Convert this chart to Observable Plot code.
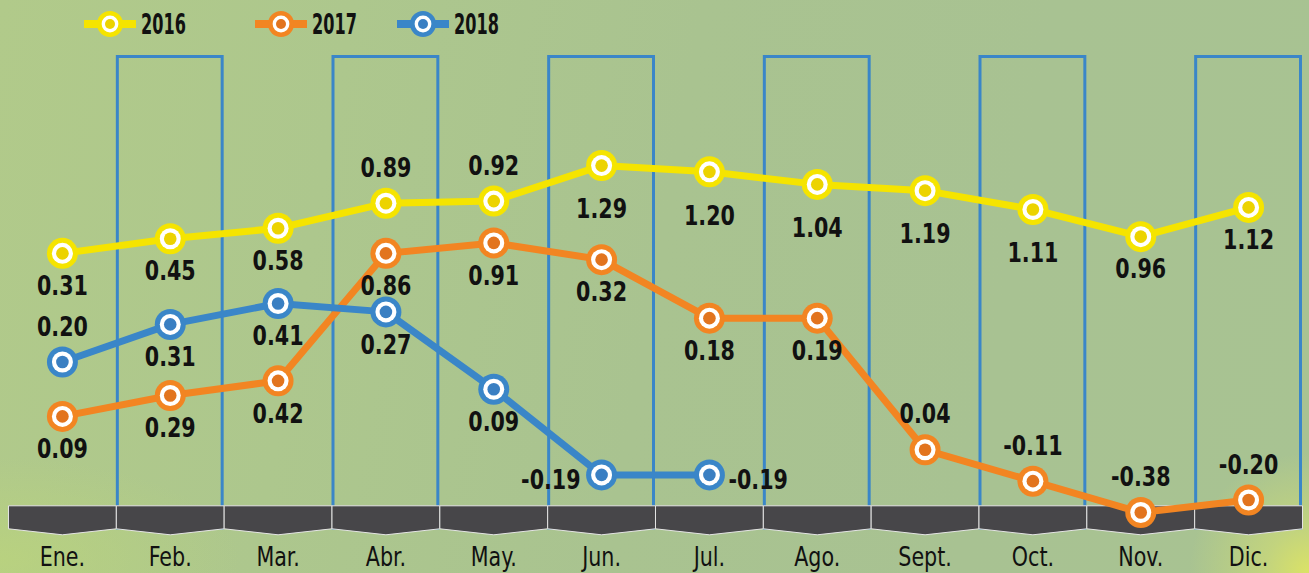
<!DOCTYPE html>
<html>
<head>
<meta charset="utf-8">
<script src="https://cdn.jsdelivr.net/npm/d3@7"></script>
<script src="https://cdn.jsdelivr.net/npm/@observablehq/plot@0.6"></script>
<style>
  html, body { margin: 0; padding: 0; }
  body {
    width: 1309px; height: 573px; overflow: hidden;
    font-family: "Liberation Sans Narrow", "DejaVu Sans Condensed", "Arial Narrow", sans-serif;
    background:
      radial-gradient(circle at 1309px 573px, rgba(222,228,100,0.95) 0px, rgba(215,225,110,0.55) 45px, rgba(200,220,120,0) 120px),
      radial-gradient(ellipse at 0px 560px, rgba(190,215,120,0.6) 0px, rgba(190,215,120,0) 240px),
      linear-gradient(100deg, #b1ca8a 0%, #adc78d 25%, #a9c390 50%, #a8c292 75%, #a8c392 100%);
  }
  #legend { position: relative; height: 45px; }
  .item { position: absolute; top: 0; height: 48px; display: flex; align-items: center; }
  .item span {
    display: inline-block; font-weight: bold; font-size: 28px; color: #111; margin-left: 5px;
    transform: scaleX(0.64); transform-origin: left center;
  }
  #chart svg { display: block; }
</style>
</head>
<body>
<div id="legend"></div>
<div id="chart"></div>
<script>
// ---- data ----
const months = ["Ene.", "Feb.", "Mar.", "Abr.", "May.", "Jun.", "Jul.", "Ago.", "Sept.", "Oct.", "Nov.", "Dic."];
const series = ["2016", "2017", "2018"];

// plotted level of each point, as drawn in the picture
const level2016 = [0.86, 0.93, 0.98, 1.10, 1.11, 1.28, 1.25, 1.19, 1.16, 1.07, 0.94, 1.08];
const level2017 = [0.08, 0.18, 0.25, 0.86, 0.91, 0.83, 0.55, 0.55, -0.08, -0.23, -0.38, -0.32];
const level2018 = [0.34, 0.52, 0.62, 0.58, 0.21, -0.20, -0.20];

// printed values
const label2016 = [0.31, 0.45, 0.58, 0.89, 0.92, 1.29, 1.20, 1.04, 1.19, 1.11, 0.96, 1.12];
const label2017 = [0.09, 0.29, 0.42, 0.86, 0.91, 0.32, 0.18, 0.19, 0.04, -0.11, -0.38, -0.20];
const label2018 = [0.20, 0.31, 0.41, 0.27, 0.09, -0.19, -0.19];

// which side of the point each value is printed on
const side2016 = ["below", "below", "below", "above", "above", "low", "low", "low", "low", "low", "below", "below"];
const side2017 = ["below", "below", "below", "below", "below", "below", "below", "below", "above", "above", "above", "above"];
const side2018 = ["above", "below", "below", "below", "below", "left", "right"];

// ---- styles ----
const outerColors = ["#f5e400", "#f28522", "#3a86c8"];
const innerColors = ["#ecd300", "#e2741e", "#3a7fc2"];
const frameColor = "#3a86c8";
const fontStack = '"Liberation Sans Narrow", "DejaVu Sans Condensed", "Arial Narrow", sans-serif';

// ---- legend (HTML, above the SVG) ----
const legendLefts = [84, 255, 397];
const legend = document.getElementById("legend");
series.forEach((s, i) => {
  const item = document.createElement("div");
  item.className = "item";
  item.style.left = legendLefts[i] + "px";
  item.innerHTML =
    `<svg width="52" height="30"><line x1="0" x2="52" y1="15" y2="15" stroke="${outerColors[i]}" stroke-width="8"/>` +
    `<circle cx="26" cy="15" r="13" fill="${outerColors[i]}"/><circle cx="26" cy="15" r="8.4" fill="white"/>` +
    `<circle cx="26" cy="15" r="5" fill="${innerColors[i]}"/></svg><span>${s}</span>`;
  legend.appendChild(item);
});

// ---- table ----
const rows = [];
[[level2016, label2016, side2016], [level2017, label2017, side2017], [level2018, label2018, side2018]]
  .forEach(([lv, lb, sd], k) => lv.forEach((v, i) =>
    rows.push({year: series[k], month: months[i], level: v, label: lb[i], side: sd[i]})));

const framedMonths = months.filter((d, i) => i % 2 === 1);
const xRange = [8, 1302];
const bw = (xRange[1] - xRange[0]) / months.length;
const chevron = {
  draw(ctx) {
    const h = bw / 2;
    ctx.moveTo(-h, -24.2); ctx.lineTo(h, -24.2); ctx.lineTo(h, -1.2);
    ctx.lineTo(0, 4.8); ctx.lineTo(-h, -1.2); ctx.closePath();
  }
};

const fmt = d => d.label.toFixed(2);
const labelOpts = {x: "month", y: "level", text: fmt, fontSize: 27, fontWeight: "bold", fill: "#111"};

const lineMarks = series.map((s, k) =>
  Plot.line(rows.filter(r => r.year === s), {x: "month", y: "level", stroke: outerColors[k], strokeWidth: 7}));
const dotMarks = series.flatMap((s, k) => {
  const d = rows.filter(r => r.year === s);
  return [
    Plot.dot(d, {x: "month", y: "level", r: 15.5, fill: outerColors[k]}),
    Plot.dot(d, {x: "month", y: "level", r: 10.5, fill: "white"}),
    Plot.dot(d, {x: "month", y: "level", r: 6.3, fill: innerColors[k]})
  ];
});

const chart = Plot.plot({
  width: 1309,
  height: 528,
  marginTop: 10,
  marginBottom: 43.5,
  marginLeft: 0,
  marginRight: 0,
  x: {type: "band", domain: months, range: xRange, padding: 0, round: false, axis: null},
  y: {domain: [-0.5, 1.5], range: [492.1, 74.1], axis: null},
  style: {background: "transparent", fontFamily: fontStack, overflow: "visible"},
  marks: [
    Plot.cell(framedMonths, {x: d => d, fill: "none", stroke: frameColor, strokeWidth: 3, inset: 1.5}),
    Plot.dot(months, {x: d => d, frameAnchor: "bottom", symbol: chevron, fill: "#474649", stroke: "#e4e4e4", strokeWidth: 1}),
    Plot.text(months, {x: d => d, frameAnchor: "bottom", dy: 36, text: d => d, fontSize: 27, fill: "#111"}),
    ...lineMarks,
    ...dotMarks,
    Plot.text(rows.filter(d => d.side === "above"), {...labelOpts, dy: -35}),
    Plot.text(rows.filter(d => d.side === "below"), {...labelOpts, dy: 33}),
    Plot.text(rows.filter(d => d.side === "low"), {...labelOpts, dy: 44}),
    Plot.text(rows.filter(d => d.side === "left"), {...labelOpts, dx: -21, dy: 5, textAnchor: "end"}),
    Plot.text(rows.filter(d => d.side === "right"), {...labelOpts, dx: 19, dy: 5, textAnchor: "start"})
  ]
});

// condense the glyphs horizontally around each text's own anchor
chart.querySelectorAll("text").forEach(t => {
  let tr = t.getAttribute("transform") || "";
  const x = t.getAttribute("x");
  if (x != null && x !== "" && !isNaN(+x)) {
    tr += ` translate(${+x},0)`;
    t.removeAttribute("x");
  }
  t.setAttribute("transform", (tr + " scale(0.85,1)").trim());
});

document.getElementById("chart").appendChild(chart);
</script>
</body>
</html>
